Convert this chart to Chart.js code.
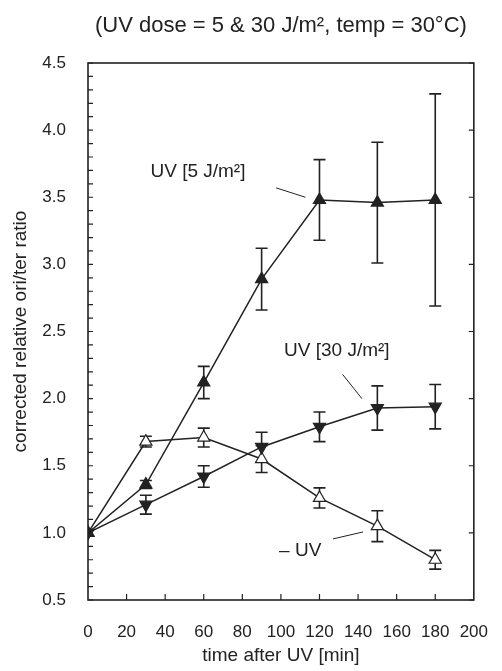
<!DOCTYPE html>
<html>
<head>
<meta charset="utf-8">
<script src="https://cdn.jsdelivr.net/npm/chart.js@4"></script>
<style>
  html, body { margin: 0; padding: 0; background: #fff; }
  #wrap { width: 502px; height: 671px; }
</style>
</head>
<body>
<div id="wrap"><canvas id="chart"></canvas></div>
<script>
// time after UV [min]
var times = [0, 30, 60, 90, 120, 150, 180];

// UV 5 J/m2 (filled up triangles)
var uv5 = [1.0, 1.36, 2.12, 2.89, 3.48, 3.46, 3.48];
var uv5Err = [0, 0.03, 0.12, 0.23, 0.30, 0.45, 0.79];

// UV 30 J/m2 (filled down triangles)
var uv30 = [1.0, 1.21, 1.42, 1.64, 1.79, 1.93, 1.94];
var uv30Err = [0, 0.07, 0.08, 0.11, 0.11, 0.165, 0.165];

// no UV (open triangles)
var noUv = [1.0, 1.68, 1.71, 1.55, 1.26, 1.05, 0.80];
var noUvErr = [0, 0.04, 0.07, 0.10, 0.075, 0.115, 0.07];

var ink = '#222';
var font = "'Liberation Sans', Arial, sans-serif";

// labels inside the plot, in data units
var notes = [
  { text: 'UV [5 J/m²]', x: 57, y: 3.69, line: [97.5, 3.57, 112.7, 3.50] },
  { text: 'UV [30 J/m²]', x: 129, y: 2.36, line: [132, 2.18, 142, 2.0] },
  { text: '– UV', x: 110, y: 0.87, line: [127, 0.955, 142.6, 1.007] }
];

function pts(ys) {
  return times.map(function (t, i) { return { x: t, y: ys[i] }; });
}

var errorBars = {
  id: 'errorBars',
  beforeDatasetsDraw: function (chart) {
    var ctx = chart.ctx, xs = chart.scales.x, ys = chart.scales.y;
    ctx.save();
    ctx.strokeStyle = ink;
    ctx.lineWidth = 1.6;
    chart.data.datasets.forEach(function (ds) {
      ds.data.forEach(function (p, i) {
        var e = ds.err[i];
        if (!e) return;
        var px = xs.getPixelForValue(p.x);
        var top = ys.getPixelForValue(p.y + e);
        var bot = ys.getPixelForValue(p.y - e);
        ctx.beginPath();
        ctx.moveTo(px, top); ctx.lineTo(px, bot);
        ctx.moveTo(px - 6, top); ctx.lineTo(px + 6, top);
        ctx.moveTo(px - 6, bot); ctx.lineTo(px + 6, bot);
        ctx.stroke();
      });
    });
    ctx.restore();
  }
};

var frame = {
  id: 'frame',
  afterDraw: function (chart) {
    var ctx = chart.ctx, a = chart.chartArea;
    var xs = chart.scales.x, ys = chart.scales.y;
    ctx.save();
    ctx.strokeStyle = ink;
    ctx.lineWidth = 1.6;
    ctx.strokeRect(a.left, a.top, a.right - a.left, a.bottom - a.top);
    ctx.lineWidth = 1.2;
    ctx.beginPath();
    // left minor ticks every 0.1
    for (var v = 5; v <= 45; v++) {
      var py = ys.getPixelForValue(v / 10);
      ctx.moveTo(a.left, py); ctx.lineTo(a.left + 5, py);
    }
    // right ticks every 0.5
    for (var w = 1; w <= 9; w++) {
      var qy = ys.getPixelForValue(w / 2);
      ctx.moveTo(a.right, qy); ctx.lineTo(a.right - 5, qy);
    }
    // bottom ticks every 20
    for (var t = 20; t < 200; t += 20) {
      var qx = xs.getPixelForValue(t);
      ctx.moveTo(qx, a.bottom); ctx.lineTo(qx, a.bottom - 6);
    }
    ctx.stroke();

    // annotations
    ctx.fillStyle = ink;
    ctx.font = '19px ' + font;
    ctx.textAlign = 'center';
    ctx.textBaseline = 'middle';
    ctx.lineWidth = 1;
    notes.forEach(function (n) {
      ctx.fillText(n.text, xs.getPixelForValue(n.x), ys.getPixelForValue(n.y));
      ctx.beginPath();
      ctx.moveTo(xs.getPixelForValue(n.line[0]), ys.getPixelForValue(n.line[1]));
      ctx.lineTo(xs.getPixelForValue(n.line[2]), ys.getPixelForValue(n.line[3]));
      ctx.stroke();
    });
    ctx.restore();
  }
};

var common = {
  borderColor: ink,
  borderWidth: 1.5,
  pointBorderColor: ink,
  pointBorderWidth: 1.2,
  pointRadius: 7,
  pointHoverRadius: 7,
  tension: 0,
  showLine: true
};

new Chart('chart', {
  type: 'scatter',
  data: {
    datasets: [
      Object.assign({ label: 'UV [5 J/m²]', data: pts(uv5), err: uv5Err,
        pointStyle: 'triangle', pointBackgroundColor: ink }, common),
      Object.assign({ label: 'UV [30 J/m²]', data: pts(uv30), err: uv30Err,
        pointStyle: 'triangle', pointRotation: 180, pointBackgroundColor: ink }, common),
      Object.assign({ label: '– UV', data: pts(noUv), err: noUvErr,
        pointStyle: 'triangle', pointBackgroundColor: '#fff' }, common)
    ]
  },
  options: {
    responsive: true,
    maintainAspectRatio: false,
    animation: false,
    layout: { padding: { top: 0, right: 20, bottom: 0, left: 0 } },
    plugins: {
      legend: { display: false },
      tooltip: { enabled: false },
      title: {
        display: true,
        fullSize: false,
        text: '(UV dose = 5 & 30 J/m², temp = 30°C)',
        color: ink,
        font: { family: font, size: 22, weight: 'normal' },
        padding: { top: 13, bottom: 23.6 }
      }
    },
    scales: {
      x: {
        type: 'linear',
        min: 0, max: 200,
        grid: { display: false },
        border: { display: false },
        ticks: { stepSize: 20, padding: 14, color: ink, font: { family: font, size: 17 } },
        title: { display: true, text: 'time after UV [min]', color: ink,
          font: { family: font, size: 19 }, padding: { top: 8, bottom: 4 } },
        afterFit: function (s) { s.height = 71; }
      },
      y: {
        min: 0.5, max: 4.5,
        grid: { display: false },
        border: { display: false },
        ticks: { stepSize: 0.5, padding: 14, color: ink, font: { family: font, size: 17 },
          callback: function (v) { return v.toFixed(1); } },
        title: { display: true, text: 'corrected relative ori/ter ratio', color: ink,
          font: { family: font, size: 19 }, padding: { top: 9, bottom: 0 } },
        afterFit: function (s) { s.width = 88; }
      }
    }
  },
  plugins: [errorBars, frame]
});
</script>
</body>
</html>
